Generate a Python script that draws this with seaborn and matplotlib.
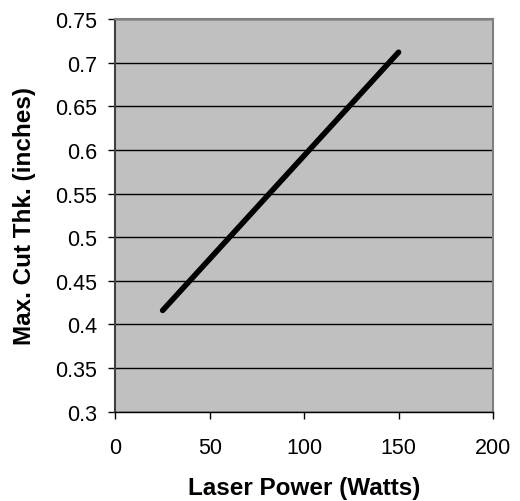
import pandas as pd
import matplotlib
matplotlib.use("Agg")
import matplotlib.pyplot as plt
import seaborn as sns

# Data
laser_power = [25, 150]
max_cut = [0.416, 0.712]
x_ticks = [0, 50, 100, 150, 200]
y_ticks = [0.3, 0.35, 0.4, 0.45, 0.5, 0.55, 0.6, 0.65, 0.7, 0.75]
y_labels = ["0.3", "0.35", "0.4", "0.45", "0.5", "0.55", "0.6", "0.65", "0.7", "0.75"]

sns.set_style("white")
plt.rcParams['font.family'] = ['Liberation Sans', 'DejaVu Sans']
plt.rcParams['text.color'] = 'black'
plt.rcParams['axes.labelcolor'] = 'black'
plt.rcParams['xtick.color'] = 'black'
plt.rcParams['ytick.color'] = 'black'

df = pd.DataFrame({'power': laser_power, 'thk': max_cut})

fig = plt.figure(figsize=(5.2, 5.02), dpi=100)
ax = fig.add_axes([0.222, 0.178, 0.726, 0.782])
ax.set_facecolor('#c0c0c0')

sns.lineplot(x='power', y='thk', data=df, ax=ax, color='black', linewidth=4,
             solid_capstyle='round', zorder=3)

ax.set_xlim(0, 200)
ax.set_ylim(0.3, 0.75)
ax.set_xticks(x_ticks)
ax.set_yticks(y_ticks)
ax.set_yticklabels(y_labels)
ax.yaxis.grid(True, color='black', linewidth=1)
ax.xaxis.grid(False)
ax.set_axisbelow(True)

ax.tick_params(axis='both', direction='out', length=5, width=1, color='black',
               labelcolor='black', labelsize=15.5, left=True, bottom=True)
ax.tick_params(axis='x', pad=13)
ax.tick_params(axis='y', pad=8)

for s in ['top', 'right']:
    ax.spines[s].set_color('#808080')
    ax.spines[s].set_linewidth(1.5)
ax.spines['left'].set_color('#404040')
ax.spines['left'].set_linewidth(1.5)
ax.spines['bottom'].set_color('black')
ax.spines['bottom'].set_linewidth(1)

ax.set_xlabel("Laser Power (Watts)", fontsize=17.5, fontweight='bold', labelpad=13, color='black')
ax.set_ylabel("Max. Cut Thk. (inches)", fontsize=17.5, fontweight='bold', labelpad=14, color='black')

fig.savefig('out.png', dpi=100)
